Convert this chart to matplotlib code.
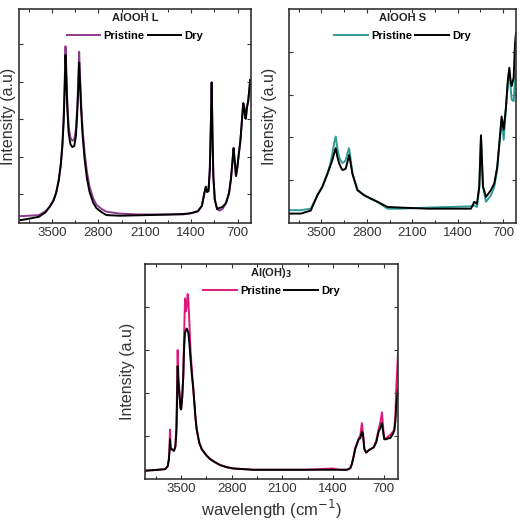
import numpy as np
import matplotlib.pyplot as plt
from matplotlib.ticker import MultipleLocator, NullFormatter

plt.rcParams['font.family'] = ['Liberation Sans', 'DejaVu Sans']

# AlOOH L (wavenumber cm-1, intensity in % of axis height)
l_wn = [3985, 3850, 3700, 3600, 3534, 3480, 3440, 3400, 3370, 3345, 3325, 3310,
        3298, 3286, 3270, 3250, 3225, 3195, 3165, 3140, 3118, 3104, 3092, 3080,
        3062, 3040, 3010, 2975, 2935, 2880, 2830, 2750, 2680, 2480, 2200, 1800,
        1528, 1420, 1378, 1300, 1240, 1202, 1180, 1160, 1140, 1120, 1105, 1092,
        1080, 1067, 1045, 1010, 977, 930, 876, 830, 801, 775, 761, 745,
        725, 705, 680, 660, 640, 616, 600, 585, 576, 560, 541, 525,
        510, 500]
l_pristine = [3.2, 3.4, 3.7, 5.5, 7.7, 10.5, 14, 20, 27, 37, 50, 66,
              82.6, 72, 56, 45, 40, 38.5, 39, 44, 56, 68, 80, 70,
              56, 44, 33, 24, 17, 11.5, 8.5, 6.5, 5.3, 4.4, 4.0, 4.0,
              4.0, 4.5, 4.8, 5.5, 8, 14, 17, 14.5, 15, 25, 45, 65.7,
              42, 22, 11, 6.5, 5.8, 6.5, 9.3, 14, 20.6, 30, 35, 29,
              22, 26, 33, 38, 46, 56, 54, 49, 48.8, 54, 57, 62,
              67, 65]
l_dry = [1.3, 2.0, 2.9, 5.0, 7.7, 10.5, 14, 20, 27, 36, 48, 63,
         78.6, 68, 53, 42, 37, 35.5, 36, 41, 53, 64, 75, 66,
         53, 41, 30, 21, 14.5, 9.5, 6.9, 5.0, 3.7, 3.4, 3.6, 3.9,
         4.2, 4.5, 4.8, 5.5, 8, 14, 17, 14.5, 15, 25, 45, 65.7,
         42, 22, 11, 6.5, 7.0, 7.5, 9.3, 14, 20.6, 30, 35, 29,
         22, 26, 33, 38, 46, 56, 54, 49, 48.8, 54, 57, 62,
         67, 65]
l_yticks = [13.4, 31, 48.5, 66, 83.5]

# AlOOH S
s_wn = [3985, 3820, 3665, 3562, 3485, 3408, 3360, 3331, 3300, 3280, 3255, 3228,
        3200, 3177, 3150, 3125, 3095, 3074, 3050, 3022, 2945, 2842, 2739, 2636,
        2482, 2276, 1864, 1195, 1143, 1102, 1066, 1040, 1009, 963, 886, 835,
        790, 757, 722, 690, 655, 625, 603, 585, 567, 536, 515, 500]
s_pristine = [6, 6, 6.7, 13, 17, 23, 28, 32.6, 38, 40.4, 35, 31,
              29, 28, 28.5, 29.5, 33, 35, 30, 23, 15.4, 13, 11.4, 9.9,
              6.7, 6.7, 7.2, 7.8, 8.2, 7.5, 17, 40, 17, 9.9, 13, 16.9,
              25, 37, 48, 38.9, 54, 66, 70.8, 64, 57.7, 57, 67, 70.5]
s_dry = [4.4, 4.4, 5.8, 13, 17, 23, 27, 29.5, 33, 35, 31, 28,
         26, 24.8, 25, 25.5, 29, 31.8, 28, 23, 15.4, 13, 11.4, 9.9,
         7.5, 7.2, 6.7, 6.7, 9.9, 9.0, 17, 41, 17, 12.2, 15.4, 18.5,
         26, 37, 49.8, 43.6, 54, 67, 72.6, 67, 64, 68, 84, 89]
s_yticks = [20, 40, 60, 80]

# Al(OH)3
h_wn = [3985, 3850, 3720, 3685, 3670, 3660, 3654, 3645, 3631, 3600, 3580, 3565,
        3555, 3548, 3538, 3525, 3510, 3500, 3485, 3470, 3460, 3446, 3435, 3423,
        3410, 3400, 3385, 3370, 3350, 3331, 3300, 3284, 3250, 3215, 3150, 3100,
        3030, 2961, 2870, 2777, 2500, 1800, 1400, 1300, 1207, 1160, 1137, 1110,
        1091, 1060, 1045, 1020, 999, 985, 965, 940, 900, 837, 800, 768,
        740, 722, 705, 690, 660, 630, 607, 570, 551, 535, 524, 512,
        500]
h_pristine = [3.9, 4.2, 4.6, 6, 9, 15, 23, 15, 13.9, 13.1, 15, 25,
              45, 60, 48, 41.7, 34, 32.4, 38, 48, 65, 84, 78, 80,
              86, 84, 72, 60, 50, 41.7, 28, 23, 17, 13.9, 11, 9.3,
              7.8, 6.5, 5.5, 4.9, 4.3, 4.3, 4.9, 4.3, 4.3, 5.0, 7, 11,
              14.5, 17, 18.5, 20.5, 26, 22, 14, 12.3, 13.5, 14.7, 18, 23,
              27, 31, 24, 19, 19, 20, 20.5, 22, 23, 30, 41.7, 50,
              58.6]
h_dry = [3.9, 4.2, 4.6, 6, 9, 13, 18.5, 14, 13.9, 13.1, 15, 22,
         38, 52.5, 45, 40, 33, 32.4, 38, 47.8, 60, 68, 69, 70,
         69, 68, 63, 56, 48, 41.7, 28, 23, 17, 13.9, 11, 9.3,
         7.8, 6.5, 5.5, 4.9, 4.3, 4.3, 4.3, 4.3, 4.3, 5.0, 7, 11,
         14, 17, 18.5, 19, 22, 21, 14, 12.3, 13.5, 14.7, 17, 22,
         24, 26, 22, 18.5, 18.5, 19, 19, 21, 22.5, 27, 34, 38,
         41.7]
h_yticks = [20, 40, 60, 80]

xticks = [3500, 2800, 2100, 1400, 700]

fig = plt.figure(figsize=(5.2, 5.23), dpi=100)
ax1 = fig.add_axes([0.0365, 0.5736, 0.446, 0.409])
ax2 = fig.add_axes([0.5558, 0.5736, 0.4365, 0.409])
ax3 = fig.add_axes([0.2788, 0.0841, 0.4865, 0.411])

panels = [
    (ax1, l_wn, l_pristine, l_dry, l_yticks, '#8e3a8e', 'AlOOH L', -0.012),
    (ax2, s_wn, s_pristine, s_dry, s_yticks, '#2f9c95', 'AlOOH S', -0.052),
    (ax3, h_wn, h_pristine, h_dry, h_yticks, '#e0187c', r'Al(OH)$_\mathbf{3}$', -0.04),
]

for ax, wn, pr, dr, yt, col, title, ylx in panels:
    ax.plot(wn, pr, color=col, lw=1.4, label='Pristine')
    ax.plot(wn, dr, color='black', lw=1.4, label='Dry')
    ax.set_xlim(4000, 500)
    ax.set_ylim(0, 100)
    ax.set_xticks(xticks)
    ax.xaxis.set_minor_locator(MultipleLocator(350))
    ax.set_yticks(yt)
    ax.yaxis.set_major_formatter(NullFormatter())
    ax.tick_params(direction='in', length=3, width=0.8, top=True, right=True,
                   labelsize=9.5, pad=3, colors='#333333', labelcolor='#333333')
    ax.tick_params(which='minor', direction='in', length=2, width=0.6, top=True)
    for sp in ax.spines.values():
        sp.set_linewidth(1.2)
        sp.set_color('#333333')
    ax.set_ylabel('Intensity (a.u)', fontsize=11.5, color='#333333')
    ax.yaxis.set_label_coords(ylx, 0.5)
    ax.text(0.5, 0.96, title, transform=ax.transAxes, ha='center', va='center',
            fontsize=8, fontweight='bold', color='#222222')
    ax.legend(loc='center', bbox_to_anchor=(0.5, 0.875), ncol=2, frameon=False,
              handlelength=3.0, handletextpad=0.3, columnspacing=0.3,
              prop={'size': 8, 'weight': 'bold'}, borderpad=0)

ax3.set_xlabel('wavelength (cm$^{-1}$)', fontsize=12, color='#333333', labelpad=2)

fig.savefig('out.png', dpi=100)
